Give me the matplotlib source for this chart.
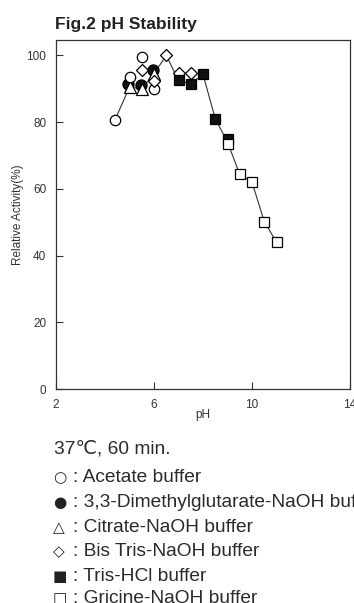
import matplotlib
matplotlib.use("Agg")
import matplotlib.pyplot as plt

# buffers (pH, relative activity %)
acetate_ph = [4.4, 5.0, 5.5, 6.0]
acetate_act = [80.5, 93.5, 99.5, 90.0]

dmg_ph = [4.95, 5.45, 5.95]
dmg_act = [91.5, 91.0, 95.5]

citrate_ph = [5.0, 5.5, 6.0]
citrate_act = [90.5, 90.0, 94.5]

bistris_ph = [5.5, 6.0, 6.5, 7.0, 7.5]
bistris_act = [95.5, 92.2, 100.0, 94.6, 94.6]

tris_ph = [7.0, 7.5, 8.0, 8.5, 9.0]
tris_act = [92.5, 91.5, 94.3, 81.0, 75.0]

glycine_ph = [9.0, 9.5, 10.0, 10.5, 11.0]
glycine_act = [73.3, 64.3, 62.0, 50.2, 44.0]

# the single connecting line through the plot
line_ph = [4.4, 5.0, 5.5, 6.0, 6.5, 7.0, 7.5, 8.0, 8.5, 9.0, 9.5, 10.0, 10.5, 11.0]
line_act = [80.5, 90.5, 90.0, 94.5, 100.0, 92.5, 91.5, 94.3, 81.0, 74.0, 64.3, 62.0, 50.2, 44.0]

x_ticks = [2, 6, 10, 14]
y_ticks = [0, 20, 40, 60, 80, 100]

legend_rows = [
    ("○", ": Acetate buffer"),
    ("●", ": 3,3-Dimethylglutarate-NaOH buffer"),
    ("△", ": Citrate-NaOH buffer"),
    ("◇", ": Bis Tris-NaOH buffer"),
    ("■", ": Tris-HCl buffer"),
    ("□", ": Gricine-NaOH buffer"),
]

W, H = 354, 603
gray = "#333333"
sans = ["Liberation Sans", "DejaVu Sans"]

fig = plt.figure(figsize=(W / 100, H / 100), dpi=100)
ax = fig.add_axes([56 / W, 1 - 389 / H, 294 / W, 349 / H])

ax.plot(line_ph, line_act, color=gray, lw=0.8, zorder=1)

mk = dict(color="none", mec="black", mew=0.9, ls="none")
ax.plot(dmg_ph, dmg_act, marker="o", ms=8, mfc="#111111", zorder=2, **mk)
ax.plot(citrate_ph, citrate_act, marker="^", ms=8, mfc="white", zorder=3, **mk)
ax.plot(acetate_ph, acetate_act, marker="o", ms=7.5, mfc="white", zorder=4, **mk)
ax.plot(bistris_ph, bistris_act, marker="D", ms=6, mfc="white", zorder=5, **mk)
ax.plot(tris_ph, tris_act, marker="s", ms=7.5, mfc="#111111", zorder=6, **mk)
ax.plot(glycine_ph, glycine_act, marker="s", ms=7.5, mfc="white", zorder=7, **mk)

ax.set_xlim(2, 14)
ax.set_ylim(0, 104.6)
ax.set_xticks(x_ticks)
ax.set_yticks(y_ticks)
ax.tick_params(direction="in", length=5, width=0.8, colors=gray,
               labelsize=8.5, labelcolor=gray)
ax.tick_params(axis="x", pad=7)
ax.tick_params(axis="y", pad=7)
for s in ax.spines.values():
    s.set_color(gray)
    s.set_linewidth(0.9)
for lab in ax.get_xticklabels() + ax.get_yticklabels():
    lab.set_family("Liberation Sans")

ax.set_xlabel("pH", fontsize=8.5, color=gray, family="Liberation Sans", labelpad=-1)
ax.set_ylabel("Relative Activity(%)", fontsize=8.5, color=gray,
              family="Liberation Sans", labelpad=1.5)

fig.text(55 / W, 1 - 29 / H, "Fig.2 pH Stability", fontsize=12.5,
         fontweight="bold", color="#222222", family="Liberation Sans",
         va="baseline")

fig.text(54 / W, 1 - 453 / H, "37℃, 60 min.", fontsize=13.8, color="#2a2a2a",
         family=sans, va="baseline")

row_base = [482, 507, 532, 556, 581, 603]
for (sym, label), y in zip(legend_rows, row_base):
    fig.text(53 / W, 1 - y / H, sym, fontsize=11, color="#222222",
             family=["DejaVu Sans"], va="baseline")
    fig.text(73 / W, 1 - y / H, label, fontsize=13.8, color="#2a2a2a",
             family=sans, va="baseline")

fig.savefig("out.png", dpi=100)
